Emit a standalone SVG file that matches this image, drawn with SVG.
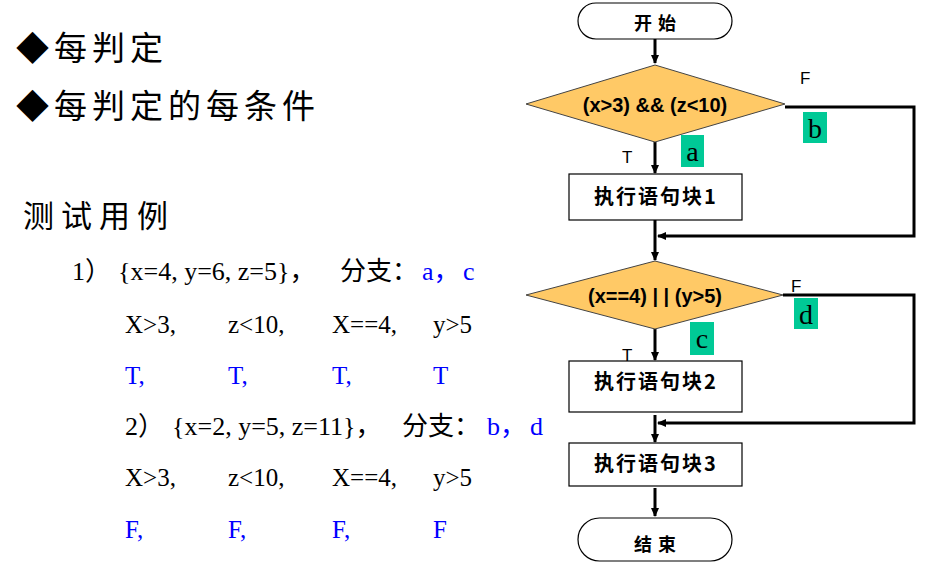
<svg xmlns="http://www.w3.org/2000/svg" width="935" height="568" viewBox="0 0 935 568">
<style>
.h{font-family:"Liberation Serif","Noto Sans CJK SC",serif;font-size:33px;letter-spacing:5px;fill:#000}
.t{font-family:"Liberation Serif","Noto Sans CJK SC",serif;font-size:25px;fill:#000}
.t2{font-size:26px}
.b{fill:#0000FF}
.term{fill:#fff;stroke:#000;stroke-width:1.2}
.box{fill:#fff;stroke:#000;stroke-width:1.2}
.dia{fill:#FFC966;stroke:#444;stroke-width:1}
.cj{font-family:"Noto Sans CJK SC",sans-serif;font-weight:bold;fill:#000;text-anchor:middle}
.dt{font-family:"Liberation Sans","Noto Sans CJK SC",sans-serif;font-size:20px;font-weight:bold;fill:#000;text-anchor:middle}
.lab{font-family:"Liberation Sans",sans-serif;font-size:17px;fill:#000}
.g{fill:#00C996}
.gl{font-family:"Liberation Serif",serif;font-size:28px;fill:#000;text-anchor:middle}
.c{fill:none;stroke:#000;stroke-width:3}
</style>
<defs>
<marker id="ah" markerWidth="10" markerHeight="10" refX="8" refY="5" orient="auto" markerUnits="userSpaceOnUse">
<path d="M0,1 L9,5 L0,9 z" fill="#000"/>
</marker>
</defs>

<g id="left-text">
<text class="h" x="16" y="60">◆每判定</text>
<text class="h" x="16" y="118">◆每判定的每条件</text>
<text class="h" x="23" y="227" style="font-size:31px;letter-spacing:7px">测试用例</text>
<text class="t t2" y="280"><tspan x="72">1）</tspan><tspan x="118">{x=4, y=6, z=5}，</tspan><tspan x="340">分支：</tspan><tspan x="422" class="b">a，</tspan><tspan x="463" class="b">c</tspan></text>
<text class="t" y="333"><tspan x="125">X&gt;3,</tspan><tspan x="228">z&lt;10,</tspan><tspan x="332">X==4,</tspan><tspan x="433">y&gt;5</tspan></text>
<text class="t b" y="384"><tspan x="125">T,</tspan><tspan x="228">T,</tspan><tspan x="332">T,</tspan><tspan x="433">T</tspan></text>
<text class="t t2" y="435"><tspan x="125">2）</tspan><tspan x="172">{x=2, y=5, z=11}，</tspan><tspan x="402">分支：</tspan><tspan x="487" class="b">b，</tspan><tspan x="530" class="b">d</tspan></text>
<text class="t" y="486"><tspan x="125">X&gt;3,</tspan><tspan x="228">z&lt;10,</tspan><tspan x="332">X==4,</tspan><tspan x="433">y&gt;5</tspan></text>
<text class="t b" y="538"><tspan x="125">F,</tspan><tspan x="228">F,</tspan><tspan x="332">F,</tspan><tspan x="433">F</tspan></text>
</g>

<g id="connectors">
<line class="c" x1="655" y1="39" x2="655" y2="63" marker-end="url(#ah)"/>
<line class="c" x1="655" y1="142" x2="655" y2="173" marker-end="url(#ah)"/>
<polyline class="c" points="785,107 914,107 914,236 658,236" marker-end="url(#ah)"/>
<line class="c" x1="655" y1="220" x2="655" y2="260" marker-end="url(#ah)"/>
<line class="c" x1="655" y1="329" x2="655" y2="360" marker-end="url(#ah)"/>
<polyline class="c" points="783,295 914,295 914,423 658,423" marker-end="url(#ah)"/>
<line class="c" x1="655" y1="415" x2="655" y2="442" marker-end="url(#ah)"/>
<line class="c" x1="655" y1="488" x2="655" y2="516" marker-end="url(#ah)"/>
</g>

<g id="start">
<rect class="term" x="578" y="3" width="154" height="36" rx="18"/>
<text class="cj" x="658" y="30" style="font-size:18px;letter-spacing:6px">开始</text>
</g>

<g id="decision1">
<polygon class="dia" points="655,65 785,104 655,142 526,104"/>
<text class="dt" x="655" y="112">(x&gt;3) &amp;&amp; (z&lt;10)</text>
<text class="lab" x="800" y="84">F</text>
<text class="lab" x="622" y="163">T</text>
</g>

<g id="label-a">
<rect class="g" x="681" y="135" width="23" height="32"/>
<text class="gl" x="692.5" y="161">a</text>
</g>
<g id="label-b">
<rect class="g" x="803" y="112" width="24" height="31"/>
<text class="gl" x="815" y="138">b</text>
</g>

<g id="block1">
<rect class="box" x="569" y="174" width="173" height="46"/>
<text class="cj" x="656" y="204" style="font-size:20px;letter-spacing:2px">执行语句块1</text>
</g>

<g id="decision2">
<polygon class="dia" points="655,261 783,295 655,329 526,295"/>
<text class="dt" x="655" y="303">(x==4) | | (y&gt;5)</text>
<text class="lab" x="791" y="292">F</text>
<text class="lab" x="622" y="361">T</text>
</g>

<g id="label-c">
<rect class="g" x="690" y="322" width="24" height="33"/>
<text class="gl" x="702" y="348">c</text>
</g>
<g id="label-d">
<rect class="g" x="794" y="298" width="24" height="31"/>
<text class="gl" x="806" y="324">d</text>
</g>

<g id="block2">
<rect class="box" x="569" y="361" width="173" height="51"/>
<text class="cj" x="656" y="389" style="font-size:20px;letter-spacing:2px">执行语句块2</text>
</g>

<g id="block3">
<rect class="box" x="569" y="443" width="173" height="43"/>
<text class="cj" x="656" y="471" style="font-size:20px;letter-spacing:2px">执行语句块3</text>
</g>

<g id="end">
<rect class="term" x="578" y="518" width="154" height="43" rx="21.5"/>
<text class="cj" x="658" y="551" style="font-size:18px;letter-spacing:6px">结束</text>
</g>
</svg>
